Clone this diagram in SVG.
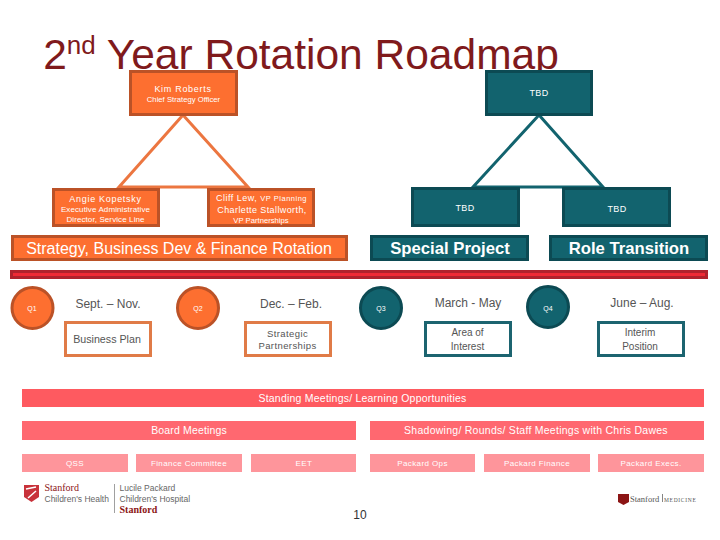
<svg xmlns="http://www.w3.org/2000/svg" width="720" height="540" viewBox="0 0 720 540">
<style>
text{font-family:"Liberation Sans",Arial,sans-serif;text-anchor:middle}
.o{fill:#fd6f30;stroke:#bb5227;stroke-width:3}
.t{fill:#12636e;stroke:#0c4a53;stroke-width:3}
.w{fill:#fff;font-size:9px}
.s{fill:#fff;font-size:7.7px}
.ban{fill:#fff;font-size:16px}
.banb{fill:#fff;font-size:16.700px;font-weight:bold}
.d{fill:#555;font-size:12px}
.l{fill:#555;font-size:10px}
.bo{fill:#fff;stroke:#e07b47;stroke-width:3}
.bt{fill:#fff;stroke:#1c6470;stroke-width:3}
.q{fill:#fff;font-size:7px}
.p1{fill:#fe5a60}.p2{fill:#ff6870}.p3{fill:#fe959b}
.m{fill:#fff;font-size:10.5px}
.n{fill:#fff;font-size:8px;letter-spacing:.4px}
.lg{font-family:"Liberation Serif",serif;text-anchor:start;font-size:10px;fill:#8c1515}
.lh{text-anchor:start;font-size:8.500px;fill:#666}
</style>
<text x="301" y="69" style="font-size:42.5px;fill:#7f1a1c">2<tspan dy="-15" font-size="26">nd</tspan><tspan dy="15"> Year Rotation Roadmap</tspan></text>
<g id="connectors" fill="none" stroke-width="3">
<path d="M183 115L119 187H248Z" stroke="#ec7640"/>
<path d="M539 115L473 187H603Z" stroke="#12636e"/>
</g>
<g id="kim"><rect class="o" x="130.500" y="71.500" width="106" height="43"/><text class="w" x="183" y="92" letter-spacing=".7">Kim Roberts</text><text class="s" x="183.500" y="102">Chief Strategy Officer</text></g>
<g id="tbd-top"><rect class="t" x="486.500" y="71.500" width="105" height="43"/><text class="w" x="539" y="96" letter-spacing=".4">TBD</text></g>
<g id="angie"><rect class="o" x="53.500" y="189.500" width="105" height="36"/><text class="w" x="105.500" y="202" letter-spacing=".7">Angie Kopetsky</text><text class="s" x="105.500" y="212" style="font-size:8px" letter-spacing=".1">Executive Administrative</text><text class="s" x="105.500" y="222" style="font-size:8px" letter-spacing=".1">Director, Service Line</text></g>
<g id="cliff"><rect class="o" x="208.500" y="189.500" width="105" height="36"/><text class="w" x="261.500" y="201" letter-spacing=".5">Cliff Lew, <tspan font-size="7.500">VP Planning</tspan></text><text class="w" x="262" y="213" letter-spacing=".4">Charlette Stallworth,</text><text class="s" x="261" y="223">VP Partnerships</text></g>
<g id="tbd-left"><rect class="t" x="412.500" y="188.500" width="106" height="37"/><text class="w" x="465" y="211" letter-spacing=".4">TBD</text></g>
<g id="tbd-right"><rect class="t" x="563.500" y="188.500" width="106" height="37"/><text class="w" x="617" y="212" letter-spacing=".4">TBD</text></g>
<g id="banner-strategy"><rect class="o" x="12.500" y="236.500" width="334" height="23"/><text class="ban" x="179" y="254">Strategy, Business Dev &amp; Finance Rotation</text></g>
<g id="banner-special"><rect class="t" x="371.500" y="236.500" width="156" height="23"/><text class="banb" x="450" y="254">Special Project</text></g>
<g id="banner-role"><rect class="t" x="550.500" y="236.500" width="156" height="23"/><text class="banb" x="629" y="254">Role Transition</text></g>
<rect id="timeline-bar" x="11.500" y="271.500" width="695" height="6" fill="#ef2a35" stroke="#b0222c" stroke-width="3"/>
<g id="q1"><circle cx="32.500" cy="308" r="20.500" class="o"/><text class="q" x="32" y="311">Q1</text></g>
<g id="q2"><circle cx="198" cy="308" r="20.500" class="o"/><text class="q" x="198" y="311">Q2</text></g>
<g id="q3"><circle cx="381" cy="308" r="20.500" class="t"/><text class="q" x="381" y="311">Q3</text></g>
<g id="q4"><circle cx="548" cy="307" r="20.500" class="t"/><text class="q" x="548" y="311">Q4</text></g>
<g id="dates"><text class="d" x="108" y="308">Sept. – Nov.</text><text class="d" x="291" y="308">Dec. – Feb.</text><text class="d" x="468" y="307">March - May</text><text class="d" x="642" y="307">June – Aug.</text></g>
<g id="business-plan"><rect class="bo" x="65.500" y="322.500" width="85" height="33"/><text class="l" x="107" y="343" style="font-size:10.700px">Business Plan</text></g>
<g id="strategic-partnerships"><rect class="bo" x="245.500" y="322.500" width="85" height="33"/><text class="l" x="287.500" y="337" letter-spacing=".4" style="font-size:9.500px">Strategic</text><text class="l" x="287.500" y="349" letter-spacing=".4" style="font-size:9.500px">Partnerships</text></g>
<g id="area-of-interest"><rect class="bt" x="425.500" y="322.500" width="85" height="33"/><text class="l" x="467.500" y="336">Area of</text><text class="l" x="467.500" y="350">Interest</text></g>
<g id="interim-position"><rect class="bt" x="598.500" y="322.500" width="85" height="33"/><text class="l" x="640" y="336">Interim</text><text class="l" x="640" y="350">Position</text></g>
<g id="standing"><rect class="p1" x="22" y="389" width="682" height="18"/><text class="m" x="362.500" y="402" letter-spacing=".22">Standing Meetings/ Learning Opportunities</text></g>
<g id="board"><rect class="p2" x="22" y="421" width="334" height="19"/><text class="m" x="189" y="434" letter-spacing=".15">Board Meetings</text></g>
<g id="shadowing"><rect class="p2" x="370" y="421" width="334" height="19"/><text class="m" x="536" y="434" letter-spacing=".26">Shadowing/ Rounds/ Staff Meetings with Chris Dawes</text></g>
<g id="qss"><rect class="p3" x="22" y="454" width="106" height="18"/><text class="n" x="75" y="466">QSS</text></g>
<g id="finance-committee"><rect class="p3" x="136" y="454" width="106" height="18"/><text class="n" x="189" y="466">Finance Committee</text></g>
<g id="eet"><rect class="p3" x="251" y="454" width="105" height="18"/><text class="n" x="304" y="466">EET</text></g>
<g id="packard-ops"><rect class="p3" x="370" y="454" width="105" height="18"/><text class="n" x="422.500" y="466">Packard Ops</text></g>
<g id="packard-finance"><rect class="p3" x="484" y="454" width="106" height="18"/><text class="n" x="537" y="466">Packard Finance</text></g>
<g id="packard-execs"><rect class="p3" x="598" y="454" width="106" height="18"/><text class="n" x="651" y="466">Packard Execs.</text></g>
<g id="logo-left">
<path d="M24 485H39V497L31.500 502L24 497Z" fill="#c8323a"/>
<path d="M26 489L36 487M28 498L36 491" stroke="#fff" stroke-width="1.500" fill="none"/>
<text class="lg" x="44.500" y="491">Stanford</text>
<text class="lh" x="44.500" y="502">Children's Health</text>
<path d="M114.500 484V513" stroke="#888" stroke-width=".8"/>
<text class="lh" x="119.500" y="491">Lucile Packard</text>
<text class="lh" x="119.500" y="502">Children's Hospital</text>
<text class="lg" x="119.500" y="513" style="font-weight:bold">Stanford</text>
</g>
<g id="logo-right">
<path d="M618 494H629V502L623.500 505L618 502Z" fill="#8c1515"/>
<text class="lg" x="630" y="501.500" style="font-size:8.500px;fill:#555">Stanford</text>
<path d="M662.500 494V502" stroke="#666" stroke-width=".8"/>
<text class="lg" x="664" y="501.500" style="font-size:5.500px;letter-spacing:.7px;fill:#555">MEDICINE</text>
</g>
<text x="360" y="519" style="font-size:12px;fill:#333">10</text>
</svg>
